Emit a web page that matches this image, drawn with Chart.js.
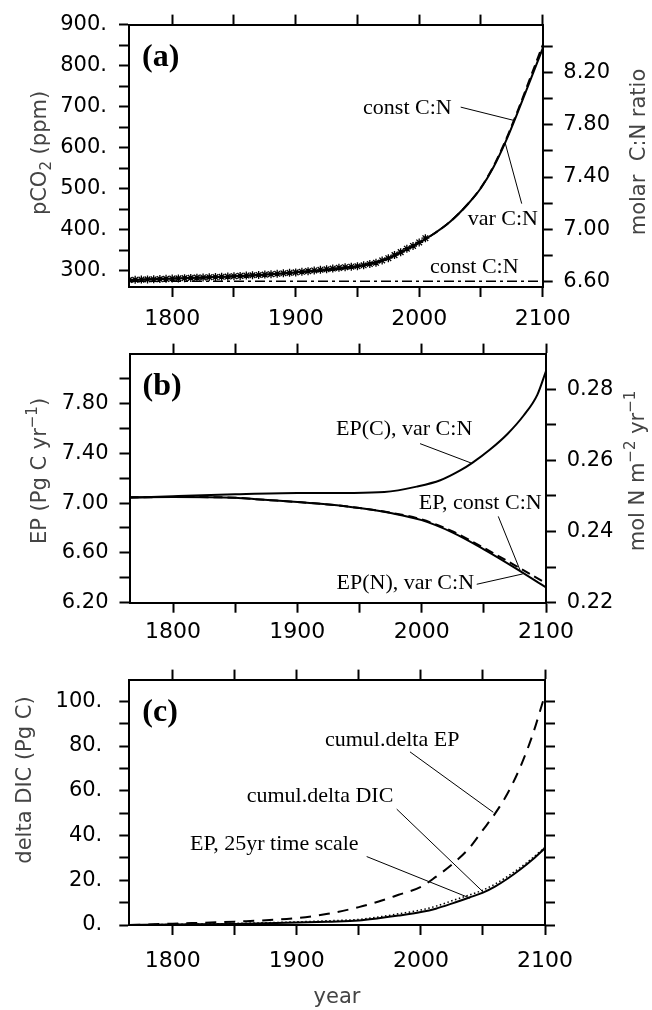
<!DOCTYPE html>
<html>
<head>
<meta charset="utf-8">
<script src="https://cdn.jsdelivr.net/npm/chart.js@4"></script>
<style>
  html, body { margin: 0; padding: 0; background: #fff; }
  #wrap { position: relative; width: 652px; height: 1010px; }
  canvas { position: absolute; left: 0; }
</style>
</head>
<body>
<div id="wrap">
  <canvas id="chartA" width="652" height="330" style="top:0px"></canvas>
  <canvas id="chartB" width="652" height="320" style="top:330px"></canvas>
  <canvas id="chartC" width="652" height="360" style="top:650px"></canvas>
</div>
<script>
// shared x axis
const yearTicks = [1800, 1850, 1900, 1950, 2000, 2050, 2100];
const yearLabels = [1800, 1900, 2000, 2100];

// panel (a): atmospheric pCO2 and C:N ratio
const yearsObs = [1765, 1770, 1775, 1780, 1785, 1790, 1795, 1800, 1805, 1810, 1815, 1820, 1825, 1830,
  1835, 1840, 1845, 1850, 1855, 1860, 1865, 1870, 1875, 1880, 1885, 1890, 1895, 1900, 1905, 1910,
  1915, 1920, 1925, 1930, 1935, 1940, 1945, 1950, 1955, 1960, 1965, 1970, 1975, 1980, 1985, 1990,
  1995, 2000, 2005];
const pco2Obs = [278, 278.5, 279, 279.5, 279.8, 280.2, 280.8, 281.5, 282, 282.6, 283.2, 283.8, 284.3, 284.8,
  285.3, 285.9, 286.5, 287.2, 288, 288.8, 289.6, 290.4, 291.2, 292.2, 293.2, 294.3, 295.4, 296.6, 298, 299.6,
  301.2, 302.8, 304.4, 306, 307.6, 309.2, 310.4, 311.6, 313.8, 316.9, 320, 325.7, 331.1, 338.7, 345.9, 354.2,
  360.9, 369.5, 379.8];
const yearsModelA = [1765, 1800, 1850, 1900, 1950, 1975, 2000, 2010, 2025, 2040, 2050, 2060, 2070, 2080, 2090, 2100];
const pco2VarCN = [278, 281.5, 287, 296.5, 311.5, 331, 369, 387, 420, 465, 502, 552, 615, 688, 765, 842];
const pco2ConstCN = [278, 281.5, 287, 296.5, 311.5, 331, 369, 387, 420, 465, 503, 554, 618, 692, 771, 850];
const yearsRatio = [1765, 2100];
const ratioConstCN = [6.6, 6.6];
const pco2Ticks = [300, 350, 400, 450, 500, 550, 600, 650, 700, 750, 800, 850, 900];
const pco2Labels = [300, 400, 500, 600, 700, 800, 900];
const ratioTicks = [6.6, 6.8, 7.0, 7.2, 7.4, 7.6, 7.8, 8.0, 8.2, 8.4];
const ratioLabels = [6.6, 7.0, 7.4, 7.8, 8.2];

// panel (b): export production
const yearsEPC = [1765, 1800, 1850, 1900, 1943, 1970, 1996, 2015, 2031, 2041, 2055, 2069, 2082, 2093, 2100];
const epCarbonVarCN = [7.043, 7.055, 7.07, 7.08, 7.081, 7.088, 7.132, 7.183, 7.262, 7.325, 7.43, 7.555, 7.703, 7.869, 8.06];
const yearsEPN = [1765, 1800, 1850, 1870, 1900, 1925, 1950, 1975, 2000, 2025, 2050, 2075, 2100];
const epNitrogenVarCN = [0.2496, 0.2497, 0.2495, 0.2490, 0.2483, 0.2476, 0.2466, 0.2452, 0.2432, 0.2397, 0.2350, 0.2298, 0.2243];
const epConstCN = [0.2496, 0.2497, 0.2495, 0.2490, 0.2483, 0.2476, 0.2466, 0.2453, 0.2434, 0.2400, 0.2354, 0.2305, 0.2255];
const epTicks = [6.2, 6.4, 6.6, 6.8, 7.0, 7.2, 7.4, 7.6, 7.8, 8.0];
const epLabels = [6.2, 6.6, 7.0, 7.4, 7.8];
const epNTicks = [0.22, 0.23, 0.24, 0.25, 0.26, 0.27, 0.28];
const epNLabels = [0.22, 0.24, 0.26, 0.28];

// panel (c): cumulative changes
const yearsC = [1765, 1800, 1850, 1900, 1925, 1950, 1966, 1982, 2000, 2012, 2026, 2039, 2050, 2060, 2070, 2080, 2090, 2100];
const cumulDeltaEP = [0, 0.6, 1.5, 3.1, 5.0, 8.0, 10.5, 13.5, 17.0, 21.5, 27.5, 34.4, 42.5, 50, 59, 70.5, 85, 103];
const cumulDeltaDIC = [0, 0.2, 0.5, 1.1, 1.5, 2.0, 3.0, 4.2, 5.8, 7.3, 9.8, 12.3, 14.5, 17.3, 20.8, 24.8, 29.3, 34.4];
const ep25yr = [0, 0.3, 0.7, 1.4, 1.9, 2.5, 3.6, 5.0, 6.7, 8.4, 11, 13.4, 15.6, 18.4, 21.8, 25.7, 30, 34.8];
const dicTicks = [0, 10, 20, 30, 40, 50, 60, 70, 80, 90, 100];
const dicLabels = [0, 20, 40, 60, 80, 100];

const SANS = '"DejaVu Sans"';
const SERIF = '"Liberation Serif"';

const pts = (xs, ys) => xs.map((x, i) => ({ x, y: ys[i] }));

const tickGrid = { drawOnChartArea: false, drawTicks: true, tickLength: 10, tickWidth: 2, tickColor: '#000' };
const frame = { display: true, width: 2, color: '#000' };

function xAxis(pos, pad, size) {
  return {
    type: 'linear', position: pos, min: 1765, max: 2100,
    afterBuildTicks: s => { s.ticks = yearTicks.map(v => ({ value: v })); },
    afterFit: s => { s.height = size; },
    ticks: {
      autoSkip: false, maxRotation: 0, minRotation: 0, padding: pad, color: '#000',
      font: { family: SANS, size: 22, lineHeight: 1.2 },
      callback: v => (pos === 'bottom' && yearLabels.includes(v)) ? String(v) : ''
    },
    grid: tickGrid, border: frame
  };
}

function yAxis(pos, min, max, tickVals, fmt, width, pad) {
  return {
    type: 'linear', position: pos, min, max,
    afterBuildTicks: s => { s.ticks = tickVals.map(v => ({ value: v })); },
    afterFit: s => { s.width = width; },
    ticks: {
      autoSkip: false, padding: pad, color: '#000',
      font: { family: SANS, size: 21, lineHeight: 1.2 },
      callback: fmt
    },
    grid: tickGrid, border: frame
  };
}

// draws a label made of normal / superscript (1) / subscript (-1) parts
function drawParts(ctx, parts, size, x, y, rot) {
  const fontFor = sh => (sh ? Math.round(size * 0.7) : size) + 'px ' + SANS;
  let total = 0;
  parts.forEach(([t, sh]) => { ctx.font = fontFor(sh); total += ctx.measureText(t).width; });
  ctx.save();
  ctx.translate(x, y);
  ctx.rotate(rot);
  ctx.textBaseline = 'middle';
  ctx.textAlign = 'left';
  ctx.fillStyle = '#444';
  let cx = -total / 2;
  parts.forEach(([t, sh]) => {
    ctx.font = fontFor(sh);
    ctx.fillText(t, cx, sh > 0 ? -size * 0.38 : sh < 0 ? size * 0.3 : 0);
    cx += ctx.measureText(t).width;
  });
  ctx.restore();
}

function textPlugin(spec) {
  return {
    id: 'panelText',
    afterDraw(chart) {
      const { ctx, chartArea: ca, scales } = chart;
      ctx.save();
      ctx.fillStyle = '#000';
      ctx.textBaseline = 'alphabetic';
      ctx.textAlign = 'left';
      ctx.font = 'bold 32px ' + SERIF;
      ctx.fillText(spec.letter, ca.left + 13, ca.top + 41);

      spec.titles.forEach(t => drawParts(ctx, t.parts, 21, t.x, t.y, t.rot));

      ctx.font = '22px ' + SERIF;
      ctx.fillStyle = '#000';
      ctx.strokeStyle = '#000';
      ctx.lineWidth = 1;
      const px = v => scales.x.getPixelForValue(v);
      const py = v => scales.y.getPixelForValue(v);
      spec.notes.forEach(n => {
        ctx.textAlign = n.align;
        ctx.fillText(n.text, px(n.x), py(n.y));
        if (n.line) {
          ctx.beginPath();
          ctx.moveTo(px(n.line[0]), py(n.line[1]));
          ctx.lineTo(px(n.line[2]), py(n.line[3]));
          ctx.stroke();
        }
      });
      ctx.restore();
    }
  };
}

const common = {
  responsive: false, animation: false, devicePixelRatio: 1,
  plugins: { legend: { display: false }, tooltip: { enabled: false } },
  elements: { point: { radius: 0 } }
};

// ---- panel (a)
new Chart(document.getElementById('chartA'), {
  type: 'line',
  data: {
    datasets: [
      { data: pts(yearsModelA, pco2VarCN), borderColor: '#000', borderWidth: 2, cubicInterpolationMode: 'monotone' },
      { data: pts(yearsObs, pco2Obs), showLine: false, pointStyle: 'star', pointRadius: 4, borderColor: '#000', borderWidth: 1.3 },
      { data: pts(yearsModelA, pco2ConstCN), borderColor: '#000', borderWidth: 2, borderDash: [9, 5], cubicInterpolationMode: 'monotone' },
      { data: pts(yearsRatio, ratioConstCN), yAxisID: 'y2', borderColor: '#000', borderWidth: 1.5, borderDash: [10, 4, 3, 4] }
    ]
  },
  options: {
    ...common,
    layout: { padding: { top: 10, left: 0, right: 0, bottom: 0 } },
    scales: {
      x: xAxis('bottom', 9, 43),
      x2: xAxis('top', 0, 9),
      y: yAxis('left', 261, 900, pco2Ticks, v => pco2Labels.includes(v) ? v + '.' : '', 129, 12),
      y2: yAxis('right', 6.555, 8.571, ratioTicks, v => ratioLabels.includes(v) ? v.toFixed(2) : '', 109.3, 10.6)
    }
  },
  plugins: [textPlugin({
    letter: '(a)',
    titles: [
      { parts: [['pCO', 0], ['2', -1], [' (ppm)', 0]], x: 41, y: 153, rot: -Math.PI / 2 },
      { parts: [['molar  C:N ratio', 0]], x: 640, y: 152, rot: -Math.PI / 2 }
    ],
    notes: [
      { text: 'const C:N', x: 2026.3, y: 683, align: 'right', line: [2033.6, 699, 2076.2, 667] },
      { text: 'var C:N', x: 2039.3, y: 413, align: 'left', line: [2083.0, 464, 2069.5, 613] },
      { text: 'const C:N', x: 2008.7, y: 295, align: 'left' }
    ]
  })]
});

// ---- panel (b)
new Chart(document.getElementById('chartB'), {
  type: 'line',
  data: {
    datasets: [
      { data: pts(yearsEPC, epCarbonVarCN), borderColor: '#000', borderWidth: 2, cubicInterpolationMode: 'monotone' },
      { data: pts(yearsEPN, epNitrogenVarCN), yAxisID: 'y2', borderColor: '#000', borderWidth: 2, cubicInterpolationMode: 'monotone' },
      { data: pts(yearsEPN, epConstCN), yAxisID: 'y2', borderColor: '#000', borderWidth: 2, borderDash: [9, 5], cubicInterpolationMode: 'monotone' }
    ]
  },
  options: {
    ...common,
    layout: { padding: { top: 1, left: 0, right: 0, bottom: 0 } },
    scales: {
      x: xAxis('bottom', 6.5, 47.3),
      x2: xAxis('top', 0, 9),
      y: yAxis('left', 6.2, 8.2, epTicks, v => epLabels.includes(v) ? v.toFixed(2) : '', 129.5, 11),
      y2: yAxis('right', 0.22, 0.29, epNTicks, v => epNLabels.includes(v) ? v.toFixed(2) : '', 106, 10.7)
    }
  },
  plugins: [textPlugin({
    letter: '(b)',
    titles: [
      { parts: [['EP (Pg C yr', 0], ['\u22121', 1], [')', 0]], x: 41, y: 141, rot: -Math.PI / 2 },
      { parts: [['mol N m', 0], ['\u22122', 1], [' yr', 0], ['\u22121', 1]], x: 639, y: 141, rot: -Math.PI / 2 }
    ],
    notes: [
      { text: 'EP(C), var C:N', x: 1931.1, y: 7.545, align: 'left', line: [1998.7, 7.477, 2040.2, 7.32] },
      { text: 'EP, const C:N', x: 2096.5, y: 6.949, align: 'right', line: [2061.6, 6.893, 2079.1, 6.462] },
      { text: 'EP(N), var C:N', x: 2042.1, y: 6.31, align: 'right', line: [2044.3, 6.348, 2081.3, 6.431] }
    ]
  })]
});

// ---- panel (c)
new Chart(document.getElementById('chartC'), {
  type: 'line',
  data: {
    datasets: [
      { data: pts(yearsC, cumulDeltaDIC), borderColor: '#000', borderWidth: 2, cubicInterpolationMode: 'monotone' },
      { data: pts(yearsC, ep25yr), borderColor: '#000', borderWidth: 1.5, borderDash: [1.5, 2.5], cubicInterpolationMode: 'monotone' },
      { data: pts(yearsC, cumulDeltaEP), borderColor: '#000', borderWidth: 2, borderDash: [11, 8], cubicInterpolationMode: 'monotone' }
    ]
  },
  options: {
    ...common,
    layout: { padding: { top: 0, left: 0, right: 0, bottom: 0 } },
    scales: {
      x: xAxis('bottom', 13.2, 85),
      x2: xAxis('top', 0, 9),
      y: yAxis('left', 0, 109.7, dicTicks, v => dicLabels.includes(v) ? v + '.' : '', 129.3, 17),
      y2: yAxis('right', 0, 109.7, dicTicks, () => '', 107, 10)
    }
  },
  plugins: [textPlugin({
    letter: '(c)',
    titles: [
      { parts: [['delta DIC (Pg C)', 0]], x: 26, y: 130, rot: -Math.PI / 2 },
      { parts: [['year', 0]], x: 337, y: 348, rot: 0 }
    ],
    notes: [
      { text: 'cumul.delta EP', x: 1922.7, y: 80.1, align: 'left', line: [1991.2, 77.4, 2058.3, 50.4] },
      { text: 'cumul.delta DIC', x: 1859.6, y: 55.0, align: 'left', line: [1980.5, 51.8, 2050.3, 14.7] },
      { text: 'EP, 25yr time scale', x: 1813.9, y: 33.7, align: 'left', line: [1956.3, 30.6, 2039.6, 12.0] }
    ]
  })]
});
</script>
</body>
</html>
